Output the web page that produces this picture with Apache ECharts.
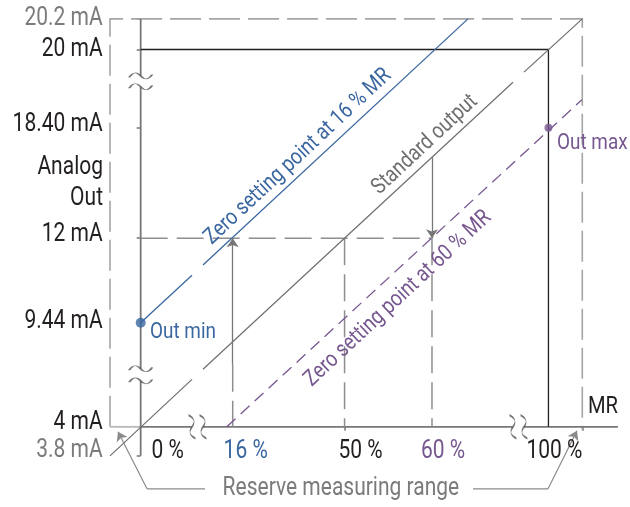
<!DOCTYPE html>
<html>
<head>
<meta charset="utf-8">
<script src="https://cdn.jsdelivr.net/npm/echarts@6/dist/echarts.min.js"></script>
<style>
  html, body { margin: 0; padding: 0; background: #fff; }
  #chart { width: 630px; height: 507px; }
</style>
</head>
<body>
<div id="chart"></div>
<script>
// Schematic, not to scale: x is read as % of measuring range, y as mA,
// values are where each mark sits on the drawing.
const mALabels = ['20.2 mA', '20 mA', '18.40 mA', '12 mA', '9.44 mA', '4 mA', '3.8 mA'];
const mAAt = [21.3, 20, 16.68, 12, 8.41, 4, 2.77];
const pctLabels = ['0 %', '16 %', '50 %', '60 %', '100 %'];
const pctAt = [0, 22.57, 50, 71.44, 100];

// lines (segments are split where they cross the axis breaks)
const standardOutput = [
  [[-7.52, 2.77], [12.59, 6.01]],
  [[15.28, 6.44], [91.3, 18.61]],
  [[94.0, 19.04], [108.3, 21.3]]
];
const zeroAt16 = [
  [[0, 8.41], [12.59, 10.43]],
  [[15.28, 10.86], [80.27, 21.3]]
];
const zeroAt60 = [[[21.1, 4], [108.2, 17.87]]];
const outMin = [0, 8.41];
const outMax = [100, 16.68];
const fullRange = [[0, 20], [100, 20], [100, 4]];
const reserveBox = [[-7.52, 4], [-7.52, 21.3], [108.3, 21.3], [108.3, 3.87]];
const guides = [
  [[0, 12], [71.44, 12]],
  [[22.57, 6.63], [22.57, 4]],
  [[50, 12], [50, 4]],
  [[71.44, 12], [71.44, 4]]
];
const arrows = [
  [[22.57, 6.63], [22.57, 12]],
  [[71.44, 15.43], [71.44, 12]]
];
const yAxisParts = [
  [[0, 21.3], [0, 18.88]],
  [[0, 18.42], [0, 6.46]],
  [[0, 5.95], [0, 2.77]]
];
const xAxisParts = [
  [[0, 4], [12.59, 4]],
  [[15.28, 4], [91.3, 4]],
  [[94.0, 4], [117.05, 4]]
];
const xAxisLead = [[[-7.52, 4], [0, 4]]];
const yBreaks = [[0, 18.88], [0, 18.42], [0, 6.46], [0, 5.95]];
const xBreaks = [[12.59, 4], [15.28, 4], [91.3, 4], [94.0, 4]];
const bracket = [
  [[15.77, 1.37], [1.55, 1.37], [-5.56, 3.79]],
  [[81.5, 1.37], [99.9, 1.37], [107.0, 3.83]]
];

// colours / fonts (Roboto squeezed horizontally to look like the condensed original)
const FONT = 'Roboto, sans-serif';
const SQUEEZE = 0.84;
const BLACK = '#231f20';
const GREY_TXT = '#7b7b7b';
const BLUE = '#3a67a0';
const PURPLE = '#76578f';
const mALabelColor = [GREY_TXT, BLACK, BLACK, BLACK, BLACK, BLACK, GREY_TXT];
const mALabelLift = [0, 0, -3, -3, -1, -4, -5];
const pctLabelColor = [BLACK, BLUE, BLACK, PURPLE, BLACK];
const pctLabelShift = [27, 13, 16, 11, 6];

const notes = [
  { text: 'Zero setting point at 16 % MR', at: [38.58, 15.45], color: BLUE, rotate: 43 },
  { text: 'Standard output', at: [69.72, 15.96], color: '#6e6e6e', rotate: 43 },
  { text: 'Zero setting point at 60 % MR', at: [63.1, 9.43], color: PURPLE, rotate: 43 },
  { text: 'Out min', at: [2.29, 7.99], color: BLUE, align: 'left' },
  { text: 'Out max', at: [102.1, 16.04], color: PURPLE, align: 'left' },
  { text: 'MR', at: [109.7, 4.85], color: BLACK, align: 'left', size: 24 },
  { text: 'Analog', at: [-9.24, 14.98], color: BLACK, align: 'right', size: 25 },
  { text: 'Out', at: [-9.24, 13.67], color: BLACK, align: 'right', size: 25 },
  { text: 'Reserve measuring range', at: [49.1, 1.37], color: GREY_TXT, size: 25 }
];

const SQUIGGLE = 'path://M0,4 C4,0 8,0 12,3 C16,6 20,6 24,2';

function linesSeries(name, list, style, extra) {
  return Object.assign({
    name: name,
    type: 'lines',
    coordinateSystem: 'cartesian2d',
    polyline: true,
    silent: true,
    symbol: ['none', 'none'],
    lineStyle: Object.assign({ opacity: 1, curveness: 0 }, style),
    data: list.map(c => ({ coords: c })),
    z: 2
  }, extra || {});
}

// arrows: plain two-point lines with an arrow head at the end
function arrowSeries(name, list, style) {
  return linesSeries(name, list, style, { polyline: false, symbol: ['none', 'arrow'], symbolSize: [7, 9] });
}

// text placed through the axes, squeezed horizontally
function textSeries(name, items) {
  return {
    name: name,
    type: 'custom',
    coordinateSystem: 'cartesian2d',
    silent: true,
    z: 6,
    data: items.map((t, i) => [t.at[0], t.at[1], i]),
    renderItem: function (params, api) {
      const t = items[api.value(2)];
      const p = api.coord([api.value(0), api.value(1)]);
      return {
        type: 'text',
        x: p[0] + (t.dx || 0),
        y: p[1] + (t.dy || 0),
        rotation: (t.rotate || 0) * Math.PI / 180,
        scaleX: SQUEEZE,
        style: {
          text: t.text,
          fill: t.color,
          font: (t.size || 22.5) + 'px ' + FONT,
          align: t.align || 'center',
          verticalAlign: 'middle'
        }
      };
    }
  };
}

const yTickText = mALabels.map((s, i) => ({
  text: s, at: [0, mAAt[i]], dx: -38, dy: mALabelLift[i], color: mALabelColor[i], align: 'right', size: 25
}));
const xTickText = pctLabels.map((s, i) => ({
  text: s, at: [pctAt[i], 4], dx: pctLabelShift[i], dy: 25, color: pctLabelColor[i], size: 25
}));

const bracketArms = bracket.map(p => p.slice(0, -1));
const bracketTips = bracket.map(p => p.slice(-2));

const chart = echarts.init(document.getElementById('chart'), null, { renderer: 'canvas' });

const option = {
  animation: false,
  backgroundColor: '#fff',
  grid: { left: 0, right: 0, top: 0, bottom: 0, outerBoundsMode: 'none', containLabel: false },
  xAxis: {
    type: 'value',
    min: -34.5,
    max: 120,
    offset: -80.2,
    splitLine: { show: false },
    axisLine: { show: false },
    axisLabel: { show: false },
    axisTick: { show: true, customValues: [50, 108.3], length: 4, lineStyle: { color: '#777', width: 1.5 } }
  },
  yAxis: {
    type: 'value',
    min: 0.6,
    max: 22.1,
    offset: -140.68,
    splitLine: { show: false },
    axisLine: { show: false },
    axisLabel: { show: false },
    axisTick: { show: true, customValues: [21.3, 20, 16.68, 12, 2.77], length: 4, lineStyle: { color: '#777', width: 1.5 } }
  },
  series: [
    linesSeries('reserve box', [reserveBox], { color: '#a5a5a5', width: 1.6, type: [31, 8] }),
    linesSeries('axis lead', xAxisLead, { color: '#b8b8b8', width: 1.8 }),
    linesSeries('axes', yAxisParts.concat(xAxisParts), { color: '#777', width: 1.8 }),
    linesSeries('guides', guides, { color: '#8e8e8e', width: 1.5, type: [27, 9] }),
    linesSeries('range', [fullRange], { color: BLACK, width: 1.3 }),
    linesSeries('Standard output', standardOutput, { color: '#6e6e6e', width: 1.2 }),
    linesSeries('Zero at 16 %', zeroAt16, { color: BLUE, width: 1.3 }),
    linesSeries('Zero at 60 %', zeroAt60, { color: PURPLE, width: 1.3, type: [12, 7] }),
    arrowSeries('arrows', arrows, { color: '#777', width: 1.3 }),
    linesSeries('bracket', bracketArms, { color: '#8a8a8a', width: 1.2 }),
    arrowSeries('bracket tips', bracketTips, { color: '#8a8a8a', width: 1.2 }),
    {
      name: 'y breaks',
      type: 'scatter',
      silent: true,
      symbol: SQUIGGLE,
      symbolSize: [23, 6],
      itemStyle: { color: 'transparent', borderColor: '#555', borderWidth: 1.2 },
      data: yBreaks,
      z: 3
    },
    {
      name: 'x breaks',
      type: 'scatter',
      silent: true,
      symbol: SQUIGGLE,
      symbolSize: [24, 6],
      symbolRotate: 100,
      itemStyle: { color: 'transparent', borderColor: '#555', borderWidth: 1.2 },
      data: xBreaks,
      z: 3
    },
    {
      name: 'out points',
      type: 'scatter',
      silent: true,
      symbol: 'circle',
      data: [
        { value: outMin, symbolSize: 10, itemStyle: { color: BLUE } },
        { value: outMax, symbolSize: 8, itemStyle: { color: PURPLE } }
      ],
      z: 4
    },
    textSeries('y tick labels', yTickText),
    textSeries('x tick labels', xTickText),
    textSeries('notes', notes)
  ]
};

chart.setOption(option);
</script>
</body>
</html>
